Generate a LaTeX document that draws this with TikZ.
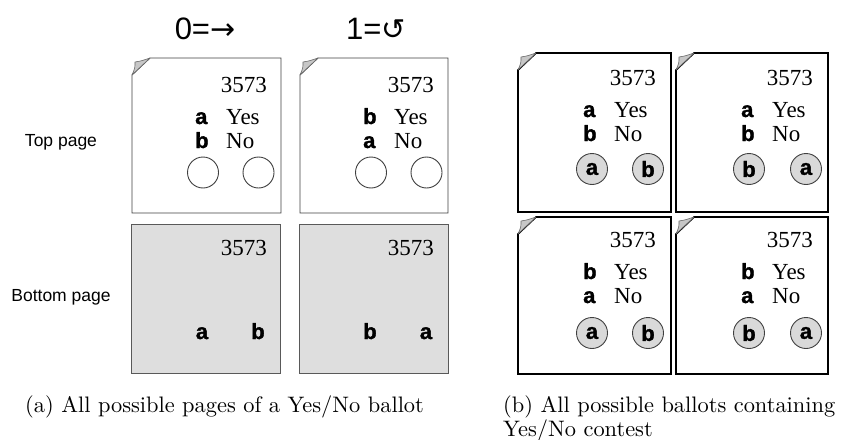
\documentclass[tikz,border=0pt]{standalone}
\usepackage{fontspec}
\newfontfamily\mySerif{Liberation Serif}
\newfontfamily\myArial{Liberation Sans}
\newfontfamily\myHeavy{Liberation Sans}[BoldFeatures={FakeBold=1.3}]
\newfontfamily\myDejavu{DejaVu Sans}
\newfontfamily\capserif{lmroman10-regular}[Extension=.otf]
\newcommand\numfont{\mySerif\fontsize{23}{23}\selectfont}
\newcommand\wordfont{\mySerif\fontsize{23}{23}\selectfont}
\newcommand\letfont{\myHeavy\bfseries\fontsize{22}{22}\selectfont}
\newcommand\sidefont{\myArial\fontsize{17.5}{18}\selectfont}
\newcommand\headfont{\myArial\fontsize{31}{31}\selectfont}
\newcommand\capfont{\capserif\fontsize{22.4}{26}\selectfont}
\tikzset{
  pgA/.style={draw=black!75, line width=0.9pt, fill=white},
  pgBot/.style={draw=black!65, line width=0.9pt, fill=black!13},
  pgB/.style={draw=black, line width=1.7pt, fill=white},
  flap/.style={fill=black!22, draw=black!60, line width=0.6pt, line join=round},
  num/.style={font=\numfont, anchor=base east, inner sep=0pt},
  lab/.style={font=\letfont, anchor=base west, inner sep=0pt},
  word/.style={font=\wordfont, anchor=base west, inner sep=0pt},
  botlab/.style={font=\letfont, anchor=base, inner sep=0pt},
  bub/.style={circle, draw=black!75, line width=0.9pt, minimum size=31pt, inner sep=0pt},
  bubB/.style={bub, fill=black!15, font=\letfont},
  side/.style={font=\sidefont, inner sep=0pt},
  head/.style={font=\headfont, anchor=base, inner sep=0pt},
  captext/.style={font=\capfont, anchor=base west, inner sep=0pt},
}
% folded page outline: name, L, T, R, B, style
\newcommand\foldpage[6]{%
  \path[#6] (#2,#3+17) -- (#2,#5) -- (#4,#5) -- (#4,#3) -- (#2+18,#3) -- cycle;
  \coordinate (#1) at ({(#2+#4)/2},{(#3+#5)/2});
  \filldraw[flap] (#2,#3+17) .. controls (#2+3,#3+10) .. (#2+3,#3+4)
     .. controls (#2+9,#3+3) .. (#2+18,#3) -- cycle;
}
% ballot text block: prefix, L, T, R, letter1, letter2, numoffset, rightmargin, lettx
\newcommand\ballottext[9]{%
  \node[num] (#1n) at (#4-#8,#3+#7) {3573};
  \node[lab] (#1l1) at (#2+#9,#3+#7+32) {#5};
  \node[word] (#1w1) at (#2+#9+31,#3+#7+32) {Yes};
  \node[lab] (#1l2) at (#2+#9,#3+#7+56) {#6};
  \node[word] (#1w2) at (#2+#9+31,#3+#7+56) {No};
}
\begin{document}
\begin{tikzpicture}[x=1pt,y=-1pt]
\useasboundingbox (0,0) rectangle (843,439);

% headers
\node[head] (h0) at (205,39) {0=\myDejavu\fontsize{30}{30}\selectfont →};
\node[head] (h1) at (376,39) {1=\myDejavu\fontsize{29}{29}\selectfont ↺};

% side labels
\node[side] (top) at (61,142) {Top page};
\node[side] (bot) at (61,297) {Bottom page};

% ---------- (a) ----------
\foldpage{aTL}{132}{58}{281}{213}{pgA}
\ballottext{aTL}{132}{58}{281}{a}{b}{34}{14}{63}
\node[bub] (aTLc1) at (203,172.5) {};
\node[bub] (aTLc2) at (258.5,172.5) {};

\foldpage{aTR}{300}{58}{448}{213}{pgA}
\ballottext{aTR}{300}{58}{448}{b}{a}{34}{14}{63}
\node[bub] (aTRc1) at (371,172.5) {};
\node[bub] (aTRc2) at (426.5,172.5) {};

\draw[pgBot] (131,224) rectangle (280,373) coordinate (aBL);
\node[num] (aBLn) at (267,255) {3573};
\node[botlab] (aBLa) at (202,339) {a};
\node[botlab] (aBLb) at (258,339) {b};

\draw[pgBot] (299,224) rectangle (448,373) coordinate (aBR);
\node[num] (aBRn) at (434,255) {3573};
\node[botlab] (aBRb) at (370,339) {b};
\node[botlab] (aBRa) at (426,339) {a};

% ---------- (b) ----------
\foldpage{b1}{518}{53}{671}{212}{pgB}
\ballottext{b1}{518}{53}{671}{a}{b}{32}{15}{65}
\node[bubB] (b1c1) at (592,169) {a};
\node[bubB] (b1c2) at (648,169) {b};

\foldpage{b2}{676}{53}{828}{212}{pgB}
\ballottext{b2}{676}{53}{828}{a}{b}{32}{15}{65}
\node[bubB] (b2c1) at (749,169) {b};
\node[bubB] (b2c2) at (806,169) {a};

\foldpage{b3}{518}{217}{671}{374}{pgB}
\ballottext{b3}{518}{217}{671}{b}{a}{30}{15}{65}
\node[bubB] (b3c1) at (592,333) {a};
\node[bubB] (b3c2) at (648,333) {b};

\foldpage{b4}{676}{217}{828}{374}{pgB}
\ballottext{b4}{676}{217}{828}{b}{a}{30}{15}{65}
\node[bubB] (b4c1) at (749,333) {b};
\node[bubB] (b4c2) at (806,333) {a};

% captions
\node[captext] (capa) at (25,412) {(a) All possible pages of a Yes/No ballot};
\node[captext] (capb1) at (503,412) {(b) All possible ballots containing};
\node[captext] (capb2) at (503,436) {Yes/No contest};
\end{tikzpicture}
\end{document}
